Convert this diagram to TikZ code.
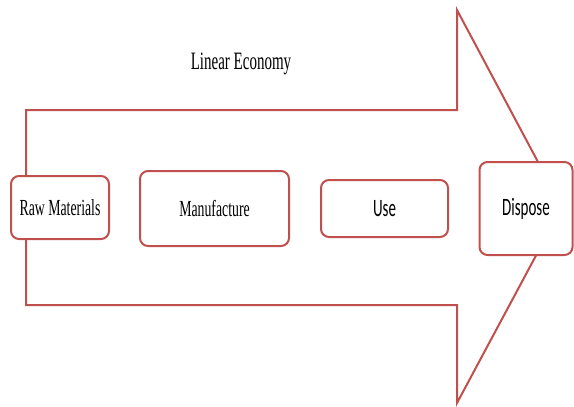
\documentclass[tikz,border=0pt]{standalone}
\usepackage{fontspec}
\setmainfont{Liberation Serif}
\newfontfamily\calib{Carlito}
\definecolor{boxred}{RGB}{192,80,77}
\tikzset{
  stagebox/.style={draw=boxred, line width=2pt, rounded corners=8pt, fill=white, inner sep=0pt},
  arrowline/.style={draw=boxred, line width=2pt, line join=miter},
}
\newcommand{\sq}[1]{\scalebox{0.6}[1]{#1}}
\begin{document}
\begin{tikzpicture}[x=1pt,y=-1pt]
\useasboundingbox (0,0) rectangle (574,407);
\draw[arrowline] (26,110) -- (457,110) -- (457,10) -- (562,207) -- (457,403) -- (457,305) -- (26,305) -- cycle;
\node[font=\fontsize{25}{25}\selectfont] (title) at (241,64) {\sq{Linear Economy}};
\node[stagebox, minimum width=98pt, minimum height=63pt, font=\fontsize{23}{23}\selectfont] (raw) at (60,207.5) {\sq{Raw Materials}};
\node[stagebox, minimum width=149pt, minimum height=75pt, font=\fontsize{23}{23}\selectfont] (manu) at (214.5,208.5) {\sq{Manufacture}};
\node[stagebox, minimum width=127pt, minimum height=57pt, font=\calib\fontsize{25}{25}\selectfont] (use) at (384.5,208.5) {\sq{Use}};
\node[stagebox, minimum width=93pt, minimum height=93pt, font=\calib\fontsize{25}{25}\selectfont] (disp) at (526,208.5) {\sq{Dispose}};
\end{tikzpicture}
\end{document}
